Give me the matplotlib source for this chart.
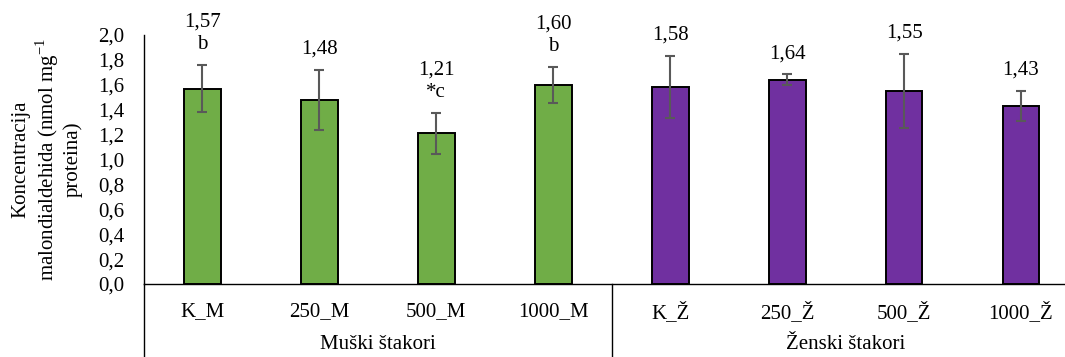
import matplotlib
matplotlib.use("Agg")
import matplotlib.pyplot as plt
from matplotlib.ticker import FuncFormatter, MultipleLocator

plt.rcParams["font.family"] = ["Liberation Serif", "DejaVu Serif"]
plt.rcParams["mathtext.fontset"] = "custom"
plt.rcParams["mathtext.rm"] = "Liberation Serif"

# data
categories = ["K_M", "250_M", "500_M", "1000_M", "K_Ž", "250_Ž", "500_Ž", "1000_Ž"]
values = [1.57, 1.48, 1.21, 1.60, 1.58, 1.64, 1.55, 1.43]
errors = [0.19, 0.24, 0.165, 0.145, 0.25, 0.045, 0.30, 0.12]
letters = ["b", "", "*c", "b", "", "", "", ""]
groups = ["Muški štakori", "Ženski štakori"]
group_size = 4

GREEN = "#70AD47"
PURPLE = "#7030A0"
FS = 15


def comma(v, _pos):
    return f"{v:.1f}".replace(".", ",")


fig = plt.figure(figsize=(10.65, 3.57), dpi=100)
ax = fig.add_axes([0.1352, 0.2045, 0.8784, 0.6975])

x = list(range(len(categories)))
colors = [GREEN] * group_size + [PURPLE] * (len(categories) - group_size)
ax.bar(x, values, width=0.315, color=colors, edgecolor="black", linewidth=1.4, zorder=2)
ax.errorbar(x, values, yerr=errors, fmt="none", ecolor="#595959",
            elinewidth=1.5, capsize=3.4, capthick=1.5, zorder=3)

for xi, v, e, lab in zip(x, values, errors, letters):
    txt = f"{v:.2f}".replace(".", ",")
    if lab:
        txt += "\n" + lab
    ax.annotate(txt, (xi, v + e), xytext=(0, 8), textcoords="offset points",
                ha="center", va="bottom", fontsize=FS, linespacing=1.22)

ax.set_xlim(-0.5, len(categories) - 0.5)
ax.set_ylim(0, 2.0)
ax.yaxis.set_major_locator(MultipleLocator(0.2))
ax.yaxis.set_major_formatter(FuncFormatter(comma))
ax.set_xticks(x)
ax.set_xticklabels(categories)
ax.tick_params(axis="both", length=0, labelsize=FS)
ax.tick_params(axis="y", pad=14)
ax.tick_params(axis="x", pad=13)

for s in ["top", "right"]:
    ax.spines[s].set_visible(False)
for s in ["left", "bottom"]:
    ax.spines[s].set_linewidth(1.0)
    ax.spines[s].set_color("black")

ax.set_ylabel("Koncentracija\nmalondialdehida (nmol mg$^{\\mathregular{-1}}$\nproteina)",
              fontsize=FS, linespacing=1.15, labelpad=11)

# group separators and group labels under the axis
trans = ax.get_xaxis_transform()
for b in [-0.5, group_size - 0.5, len(categories) - 0.5]:
    ax.plot([b, b], [0, -0.32], color="black", linewidth=1.0,
            transform=trans, clip_on=False)
for gi, g in enumerate(groups):
    cx = gi * group_size + (group_size - 1) / 2
    ax.text(cx, -0.241, g, transform=trans, ha="center", va="center", fontsize=FS)

fig.savefig("out.png", dpi=100)
